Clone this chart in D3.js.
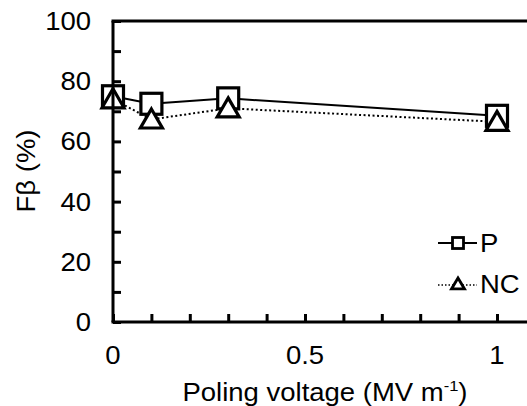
<!DOCTYPE html>
<html><head><meta charset="utf-8">
<script src="https://cdn.jsdelivr.net/npm/d3@7"></script>
<style>body{margin:0;background:#fff}svg{display:block}text{font-family:"Liberation Sans",Arial,sans-serif;fill:#000}</style>
</head><body><svg id="c" width="527" height="406"></svg>
<script>
const voltages = [0, 0.1, 0.3, 1];
const seriesP = [75, 72.5, 74.3, 68.5];
const seriesNC = [74, 67.3, 71, 66.5];
const xTickLabels = [0, 0.5, 1];
const yTickLabels = [0, 20, 40, 60, 80, 100];
const seriesNames = ["P", "NC"];

const svg = d3.select("#c");
const x = d3.scaleLinear().domain([0, 1.1]).range([113, 535.4]);
const y = d3.scaleLinear().domain([0, 100]).range([322, 21]);
const FS = 25, SX = 1.1;

function label(px, py, anchor, txt, rot) {
  const g = svg.append("g").attr("transform", `translate(${px},${py})` + (rot ? ` rotate(${rot})` : "") + ` scale(${SX},1)`);
  return g.append("text").attr("text-anchor", anchor).attr("font-size", FS).text(txt);
}

// series
const line = d3.line().x((d, i) => x(voltages[i])).y(d => y(d));
svg.append("path").datum(seriesP).attr("d", line).attr("fill", "none").attr("stroke", "#000").attr("stroke-width", 2);
svg.append("path").datum(seriesNC).attr("d", line).attr("fill", "none").attr("stroke", "#000").attr("stroke-width", 2).attr("stroke-dasharray", "2,2.5");

function tri(cx, cy, w, h) {
  return `M${cx},${cy - h * 0.55}L${cx + w / 2},${cy + h * 0.45}L${cx - w / 2},${cy + h * 0.45}Z`;
}
svg.selectAll(".mp").data(seriesP).join("rect")
  .attr("x", (d, i) => x(voltages[i]) - 10.5).attr("y", d => y(d) - 10.5)
  .attr("width", 21).attr("height", 21)
  .attr("fill", "#fff").attr("stroke", "#000").attr("stroke-width", 3.2);
svg.selectAll(".mn").data(seriesNC).join("path")
  .attr("d", (d, i) => tri(x(voltages[i]), y(d), 22, 19))
  .attr("fill", "#fff").attr("stroke", "#000").attr("stroke-width", 3.2).attr("stroke-linejoin", "miter");

// axes
const yAxis = d3.axisLeft(y).tickValues(d3.range(0, 101, 10)).tickSize(-8).tickFormat("");
const gy = svg.append("g").attr("transform", "translate(113,0)").call(yAxis);
const xAxis = d3.axisBottom(x).tickValues(d3.range(0, 1.11, 0.1)).tickSize(-8).tickFormat("");
const gx = svg.append("g").attr("transform", "translate(0,322)").call(xAxis);
[gy, gx].forEach(g => {
  g.selectAll("path").attr("stroke", "#000").attr("stroke-width", 3);
  g.selectAll("line").attr("stroke", "#000").attr("stroke-width", 3);
});
gy.select("path").attr("d", `M0,${y(100)}V${y(0)}`);
gx.select("path").attr("d", `M${x(0) - 1.5},0H${x(1.1)}`);
svg.append("line").attr("x1", x(0) - 1.5).attr("x2", x(1.1)).attr("y1", y(100)).attr("y2", y(100))
  .attr("stroke", "#000").attr("stroke-width", 3);

// tick labels
yTickLabels.forEach(d => label(91, y(d) + 9, "end", d));
xTickLabels.forEach(d => label(x(d), 364, "middle", d));

// titles
const xt = label(325, 401, "middle", "");
xt.append("tspan").text("Poling voltage (MV m");
xt.append("tspan").attr("font-size", 15).attr("dy", -10).text("-1");
xt.append("tspan").attr("dy", 10).text(")");
label(35, 171, "middle", "Fβ (%)", -90);

// legend
const lg = svg.append("g");
lg.append("line").attr("x1", 438).attr("x2", 477).attr("y1", 243).attr("y2", 243).attr("stroke", "#000").attr("stroke-width", 2);
lg.append("rect").attr("x", 452.5).attr("y", 237.5).attr("width", 11).attr("height", 11).attr("fill", "#fff").attr("stroke", "#000").attr("stroke-width", 2.8);
label(480, 252, "start", seriesNames[0]);
lg.append("line").attr("x1", 438).attr("x2", 477).attr("y1", 285).attr("y2", 285).attr("stroke", "#000").attr("stroke-width", 1.5).attr("stroke-dasharray", "1.5,2");
lg.append("path").attr("d", tri(458, 284, 13, 11)).attr("fill", "#fff").attr("stroke", "#000").attr("stroke-width", 2.8);
label(480, 293, "start", seriesNames[1]);
</script></body></html>
